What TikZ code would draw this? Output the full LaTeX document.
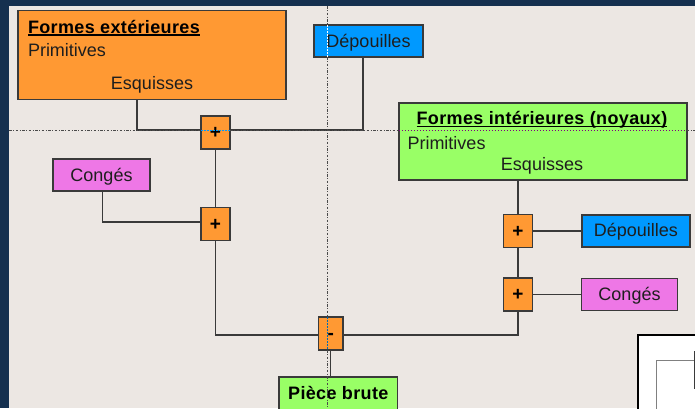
\documentclass[tikz,border=0pt]{standalone}
\usepackage{fontspec}
\setmainfont{Liberation Sans}
\usetikzlibrary{backgrounds}
\definecolor{frame}{HTML}{15304F}
\definecolor{canvas}{HTML}{ECE7E3}
\definecolor{ora}{HTML}{FF9933}
\definecolor{blu}{HTML}{0099FF}
\definecolor{pnk}{HTML}{EE77E6}
\definecolor{grn}{HTML}{99FF66}
\definecolor{edge}{HTML}{3A3A3A}
\definecolor{ink}{HTML}{1E1E1E}
\definecolor{guidecol}{HTML}{4A4A4A}
\newcommand{\boldlabel}{\fontsize{18}{20}\selectfont\bfseries\addfontfeatures{LetterSpace=2}}
\begin{document}
\begin{tikzpicture}[x=1pt,y=-1pt,
  box/.style={draw=edge, line width=1.3pt, inner sep=0pt, outer sep=0pt, text=ink,
    font=\fontsize{18}{20}\selectfont, text height=14pt, text depth=2pt},
  bigbox/.style={draw=edge, line width=1.3pt, inner sep=0pt, outer sep=0pt},
  opbox/.style={box, fill=ora, minimum width=29pt, minimum height=33pt, text=black,
    font=\fontsize{19}{19}\selectfont\bfseries, text height=12pt, text depth=0pt},
  txt/.style={inner sep=0pt, outer sep=0pt, text=ink, font=\fontsize{18}{20}\selectfont},
  ttl/.style={txt, text=black, font=\boldlabel},
  conn/.style={draw=edge, line width=1.3pt},
  guide/.style={draw=guidecol, line width=0.8pt, dash pattern=on 2.5pt off 1.5pt on 1pt off 1.5pt},
  dotguide/.style={line width=0.8pt, dash pattern=on 1.5pt off 1.5pt}
]
% window frame and canvas
\begin{scope}[on background layer]
  \fill[frame] (0,0) rectangle (695,408);
  \fill[canvas] (9,6) rectangle (695,408);
\end{scope}
\path[use as bounding box] (0,0) rectangle (695,408);
\clip (0,0) rectangle (695,408);

% outer shapes
\node[bigbox, fill=ora, minimum width=268pt, minimum height=89pt] (ext) at (152,55.2) {};
\node[ttl, anchor=base west] (extT) at (28,33) {Formes extérieures};
\draw[line width=1.3pt] ([yshift=-2pt]extT.base west) -- ([yshift=-2pt]extT.base east);
\node[txt, anchor=base west] (extP) at (28,56.5) {Primitives};
\node[txt, anchor=base] (extE) at (152,89.5) {Esquisses};

\node[box, fill=blu, minimum width=109pt, minimum height=32pt] (dep1) at (368.5,41) {Dépouilles};
\node[box, fill=pnk, minimum width=97pt, minimum height=32pt] (cong1) at (101.5,175) {Congés};

% inner shapes (cores)
\node[bigbox, fill=grn, minimum width=288pt, minimum height=77pt] (core) at (542.9,141.5) {};
\node[ttl, anchor=base] (coreT) at (542,124.3) {Formes intérieures (noyaux)};
\draw[line width=1.3pt] ([yshift=-2pt]coreT.base west) -- ([yshift=-2pt]coreT.base east);
\node[txt, anchor=base west] (coreP) at (407.5,149) {Primitives};
\node[txt, anchor=base] (coreE) at (542,170.3) {Esquisses};

\node[box, fill=blu, minimum width=108pt, minimum height=32pt] (dep2) at (635.9,230.9) {Dépouilles};
\node[box, fill=pnk, minimum width=95.6pt, minimum height=31.6pt] (cong2) at (629.5,294.5) {Congés};

% boolean operators
\node[opbox] (p1) at (215.5,132.5) {+};
\node[opbox] (p2) at (215.5,224.3) {+};
\node[opbox] (p3) at (518,231) {+};
\node[opbox] (p4) at (518,294.5) {+};
\node[opbox, minimum width=24.5pt] (minus) at (330.7,333.5) {-};

% result
\node[box, fill=grn, text=black, font=\boldlabel, minimum width=118.7pt, minimum height=33pt] (piece) at (338.3,393.5) {Pièce brute};

% connectors
\coordinate (j1) at (137,130);
\coordinate (j2) at (363,130);
\coordinate (j3) at (102.7,222);
\coordinate (j4) at (215.5,335);
\coordinate (j5) at (518,335);
\coordinate (j6) at (518,180);
\begin{scope}[on background layer]
  \draw[conn] (ext.south -| j1) -- (j1) -- (j2) -- (dep1.south -| j2);
  \draw[conn] (p1.center) -- (p2.center);
  \draw[conn] (cong1.south -| j3) -- (j3) -- (p2.center |- j3);
  \draw[conn] (p2.center) -- (j4) -- (j5) -- (p4.center);
  \draw[conn] (minus.center) -- (minus.center |- piece.north);
  \draw[conn] (core.south -| j6) -- (p3.center) -- (p4.center);
  \draw[conn] (p3.center) -- (p3.center -| dep2.west);
  \draw[conn] (p4.center) -- (p4.center -| cong2.west);
\end{scope}

% frame of the neighbouring window
\draw[line width=2pt, fill=white] (638,335) rectangle (720,430);
\draw[gray, line width=1pt] (656,360.5) rectangle (720,430);
\draw[edge, line width=1pt] (694,351) -- (694,389);

% guide lines
\coordinate (hg) at (0,130);
\coordinate (vg) at (327.3,0);
\draw[guide] (9,130) -- (p1.west |- hg);
\draw[guide] (p1.east |- hg) -- (core.west |- hg);
\draw[guide] (core.east |- hg) -- (695,130);
\draw[dotguide, draw=blu] (p1.west |- hg) -- (p1.east |- hg);
\draw[dotguide, draw=violet] (core.west |- hg) -- (core.east |- hg);
\draw[guide] (327.3,6) -- (vg |- dep1.north);
\draw[dotguide, draw=white] (vg |- dep1.north) -- (vg |- dep1.south);
\draw[guide] (vg |- dep1.south) -- (vg |- minus.north);
\draw[dotguide, draw=blu!70!black] (vg |- minus.north) -- (vg |- minus.south);
\draw[guide] (vg |- minus.south) -- (327.3,408);
\end{tikzpicture}
\end{document}
